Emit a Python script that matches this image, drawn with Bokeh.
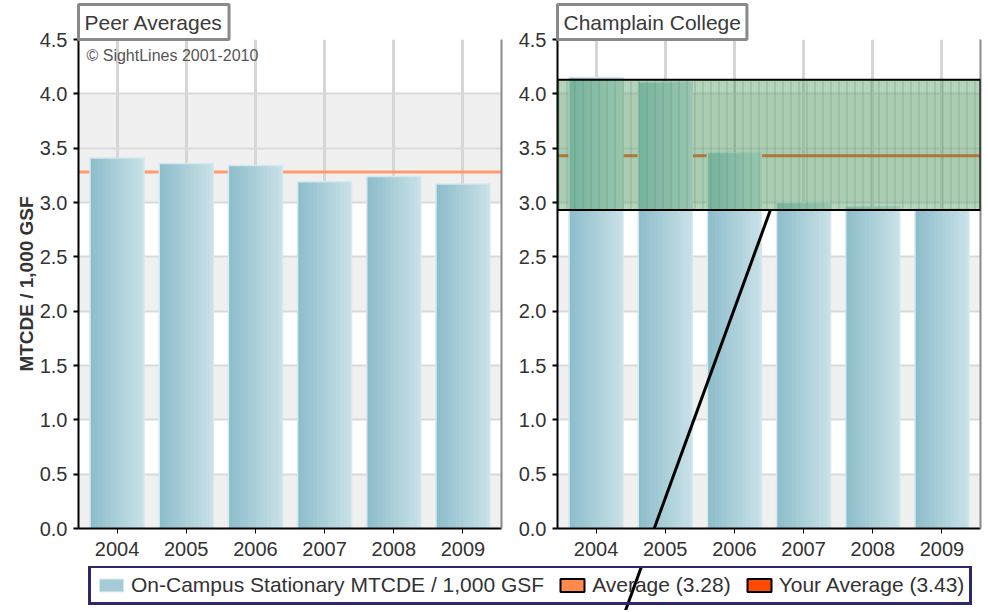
from bokeh.plotting import figure
from bokeh.layouts import column, row
from bokeh.models import (FactorRange, Range1d, BoxAnnotation, Label, Legend, LegendItem,
                          LinearAxis, Span, Arrow, FixedTicker, PrintfTickFormatter,
                          ColumnDataSource, Title)
from bokeh.transform import dodge
from bokeh.embed import file_html
from bokeh.resources import INLINE

# ---------------- data ----------------
years = ["2004", "2005", "2006", "2007", "2008", "2009"]
peer_values = [3.41, 3.36, 3.34, 3.19, 3.24, 3.17]
college_values = [4.15, 4.11, 3.46, 3.00, 2.96, 2.94]
peer_average = 3.28
college_average = 3.43
y_ticks = [0.0, 0.5, 1.0, 1.5, 2.0, 2.5, 3.0, 3.5, 4.0, 4.5]
gray_bands = [(0.0, 0.5), (1.0, 1.5), (2.0, 2.5), (3.0, 4.0)]
highlight_bottom = 2.93
highlight_top = 4.13
series_label = "On-Campus Stationary MTCDE / 1,000 GSF"
avg_label = "Average (3.28)"
your_avg_label = "Your Average (3.43)"
y_label = "MTCDE / 1,000 GSF"

FONT = "Liberation Sans"
TXT = "#333333"
BAR_L = (141, 190, 203)
BAR_R = (200, 224, 231)
N_STRIPS = 14
BAR_W = 0.78


def mix(a, b, t):
    return "#%02x%02x%02x" % tuple(int(round(a[i] + (b[i] - a[i]) * t)) for i in range(3))


def make_panel(values, avg, avg_color, min_left, min_right, title, show_ylabel):
    p = figure(x_range=FactorRange(*years, range_padding=0.019, range_padding_units="percent"),
               y_range=Range1d(0, 4.5), frame_width=423, frame_height=489,
               min_border_left=min_left, min_border_right=min_right, min_border_top=39,
               min_border_bottom=38, output_backend="svg", toolbar_location=None,
               outline_line_color=None, background_fill_color="white",
               border_fill_color="white")
    p.title = Title(text=title, align="left", offset=0, standoff=0, text_font=FONT,
                    text_font_size="21px", text_font_style="normal", text_color="#3a3a3a",
                    background_fill_color="white", border_line_color="#8a8a8a",
                    border_line_width=3, padding=6)
    src = ColumnDataSource(dict(year=years, value=values))

    # background bands (behind grids)
    bands = [BoxAnnotation(bottom=b, top=t, fill_color="#f0f0f0", fill_alpha=1.0,
                           line_color=None, level="underlay") for (b, t) in gray_bands]
    avg_span = Span(location=avg, dimension="width", line_color=avg_color, line_width=3,
                    level="underlay")
    p.center = bands + list(p.center) + [avg_span]

    p.xgrid.grid_line_color = "#d6d6d6"
    p.xgrid.grid_line_width = 3
    p.ygrid.ticker = FixedTicker(ticks=y_ticks)
    p.ygrid.grid_line_color = "#d9d9d9"
    p.ygrid.grid_line_width = 2

    # gradient bars (overlapping strips, left dark -> right light)
    w = BAR_W / N_STRIPS
    for i in range(N_STRIPS):
        lo = -BAR_W / 2 + i * w
        hi = min(lo + 1.6 * w, BAR_W / 2)
        col = mix(BAR_L, BAR_R, i / (N_STRIPS - 1))
        p.vbar(x=dodge("year", (lo + hi) / 2, range=p.x_range), top="value", bottom=0,
               width=hi - lo, source=src, fill_color=col, line_color=None)
    p.vbar(x="year", top="value", bottom=0, width=BAR_W, source=src, fill_color=None,
           line_color="#d4e8ee", line_width=1.5)

    # axes
    xa = p.xaxis[0]
    xa.axis_line_color = "black"
    xa.axis_line_width = 2
    xa.major_tick_line_color = "black"
    xa.major_tick_out = 5
    xa.major_tick_in = 0
    xa.major_label_text_font = FONT
    xa.major_label_text_font_size = "20px"
    xa.major_label_text_color = TXT
    xa.major_label_standoff = 8

    ya = p.yaxis[0]
    ya.ticker = FixedTicker(ticks=y_ticks)
    ya.formatter = PrintfTickFormatter(format="%.1f")
    ya.axis_line_color = "black"
    ya.axis_line_width = 2
    ya.major_tick_line_color = "black"
    ya.major_tick_line_width = 2
    ya.major_tick_out = 5
    ya.major_tick_in = 0
    ya.minor_tick_line_color = None
    ya.major_label_text_font = FONT
    ya.major_label_text_font_size = "20px"
    ya.major_label_text_color = TXT
    ya.major_label_standoff = 6
    if show_ylabel:
        ya.axis_label = y_label
        ya.axis_label_text_font = FONT
        ya.axis_label_text_font_size = "19px"
        ya.axis_label_text_font_style = "bold"
        ya.axis_label_text_color = TXT
        ya.axis_label_standoff = 0

    rb = LinearAxis(ticker=FixedTicker(ticks=[]), major_tick_line_color=None,
                    minor_tick_line_color=None, axis_line_color="#8a8a8a",
                    axis_line_width=2, major_label_standoff=0)
    p.add_layout(rb, "right")
    return p


left = make_panel(peer_values, peer_average, "#ff9a6c", 78, 5, "Peer Averages", True)
left.add_layout(Label(x=8, y=473, x_units="screen", y_units="screen",
                      text="\u00a9 SightLines 2001-2010", text_font=FONT,
                      text_font_size="16px", text_color="#555555", text_baseline="middle"))

right = make_panel(college_values, college_average, "#ff4a00", 51, 2, "Champlain College", False)
right.add_layout(BoxAnnotation(bottom=highlight_bottom, top=highlight_top,
                               fill_color="#62a870", fill_alpha=0.48, line_color="black",
                               line_width=2, line_alpha=1.0, hatch_pattern="|",
                               hatch_color="#4f8f5f", hatch_alpha=0.4, hatch_scale=8,
                               hatch_weight=1))
right.add_layout(Arrow(end=None, x_start=3.02, y_start=highlight_bottom, x_end=1.14,
                       y_end=-0.35, line_color="black", line_width=3, level="overlay"))

# ---------------- legend strip ----------------
leg = figure(width=984, height=44, x_range=Range1d(0, 984), y_range=Range1d(0, 44),
             min_border=0, toolbar_location=None, output_backend="svg",
             outline_line_color=None, x_axis_type=None, y_axis_type=None,
             background_fill_color="white", border_fill_color="white")
leg.grid.visible = False
r1 = leg.rect(x=[-500], y=[-500], width=1, height=1, fill_color=mix(BAR_L, BAR_R, 0.4),
              line_color="#d4e8ee")
r2 = leg.rect(x=[-500], y=[-500], width=1, height=1, fill_color="#ff8a4c", line_color="black",
              line_width=2)
r3 = leg.rect(x=[-500], y=[-500], width=1, height=1, fill_color="#ff4a00", line_color="black",
              line_width=2)
legend = Legend(items=[LegendItem(label=series_label, renderers=[r1]),
                       LegendItem(label=avg_label, renderers=[r2]),
                       LegendItem(label=your_avg_label, renderers=[r3])],
                orientation="horizontal", location=(88, 5), border_line_color="#2b2870",
                border_line_width=3, border_line_alpha=1.0, label_text_font=FONT,
                label_text_font_size="21px", label_text_color=TXT, glyph_width=30,
                glyph_height=16, spacing=13, padding=5, margin=0, label_standoff=5,
                background_fill_color="white", background_fill_alpha=0.0)
pointer = Arrow(end=None, x_start=641.0, y_start=44, x_end=625.0, y_end=0,
                line_color="black", line_width=3, level="underlay")
leg.center = list(leg.center) + [pointer, legend]

layout = column(row(left, right, spacing=0), leg, spacing=0)
open("out.html", "w").write(file_html(layout, INLINE))
